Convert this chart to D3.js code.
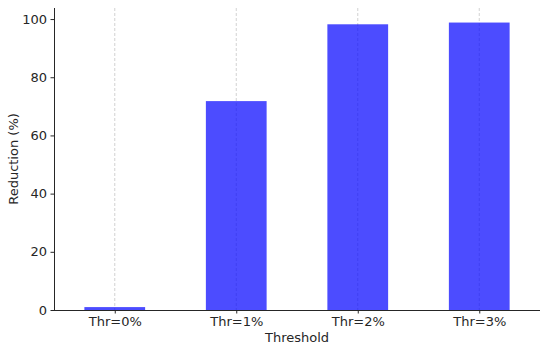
<!DOCTYPE html>
<html>
<head>
<meta charset="utf-8">
<script src="https://cdn.jsdelivr.net/npm/d3@7"></script>
<style>
	body { margin: 0; background: #fff; }
	text { font-family: "DejaVu Sans", sans-serif; fill: #262626; }
</style>
</head>
<body>
<div id="chart"></div>
<script>
var categories = ["Thr=0%", "Thr=1%", "Thr=2%", "Thr=3%"]
var reduction  = [1.0, 71.8, 98.2, 98.8]
var yTicks     = [0, 20, 40, 60, 80, 100]

var w = 550,
	h = 349,
	plotLeft = 54,
	plotRight = 540,
	plotTop = 8,
	plotBottom = 310

var svg = d3.select("#chart")
	.append("svg")
	.attr("width", w)
	.attr("height", h)

var x = d3.scalePoint()
	.domain(categories)
	.range([plotLeft, plotRight])
	.padding(0.5)

var barWidth = x.step() * 0.5

var y = d3.scaleLinear()
	.domain([0, 103.8])
	.range([plotBottom, plotTop])

// dashed vertical grid at each category
svg.selectAll(".grid")
	.data(categories)
	.enter()
	.append("line")
	.attr("class", "grid")
	.attr("x1", function(d){ return x(d) })
	.attr("x2", function(d){ return x(d) })
	.attr("y1", plotTop)
	.attr("y2", plotBottom)
	.attr("stroke", "#b0b0b0")
	.attr("stroke-width", 0.8)
	.attr("stroke-dasharray", "3,2")
	.attr("opacity", 0.7)

svg.selectAll(".bar")
	.data(reduction)
	.enter()
	.append("rect")
	.attr("class", "bar")
	.attr("x", function(d,i){ return x(categories[i]) - barWidth/2 })
	.attr("y", function(d){ return y(d) })
	.attr("width", barWidth)
	.attr("height", function(d){ return y(0) - y(d) })
	.attr("fill", "#0000ff")
	.attr("fill-opacity", 0.7)

var xAxis = svg.append("g")
	.attr("transform", "translate(0," + plotBottom + ")")
	.call(d3.axisBottom(x).tickSize(3.5).tickPadding(3.5))
xAxis.select(".domain").attr("d", "M" + plotLeft + ",0.5H" + plotRight)

var yAxis = svg.append("g")
	.attr("transform", "translate(" + plotLeft + ",0)")
	.call(d3.axisLeft(y).tickValues(yTicks).tickSize(3.5).tickPadding(3.5))
yAxis.select(".domain").attr("d", "M0.5," + plotTop + "V" + plotBottom)

svg.selectAll(".domain").attr("stroke", "#262626").attr("stroke-width", 1)
svg.selectAll(".tick line").attr("stroke", "#262626")
svg.selectAll(".tick text")
	.attr("font-family", "DejaVu Sans")
	.attr("font-size", 13)
	.attr("fill", "#262626")

svg.append("text")
	.attr("x", (plotLeft + plotRight) / 2)
	.attr("y", 342)
	.attr("text-anchor", "middle")
	.attr("font-size", 13)
	.text("Threshold")

svg.append("text")
	.attr("transform", "translate(18," + (plotTop + plotBottom) / 2 + ") rotate(-90)")
	.attr("text-anchor", "middle")
	.attr("font-size", 13)
	.text("Reduction (%)")
</script>
</body>
</html>
